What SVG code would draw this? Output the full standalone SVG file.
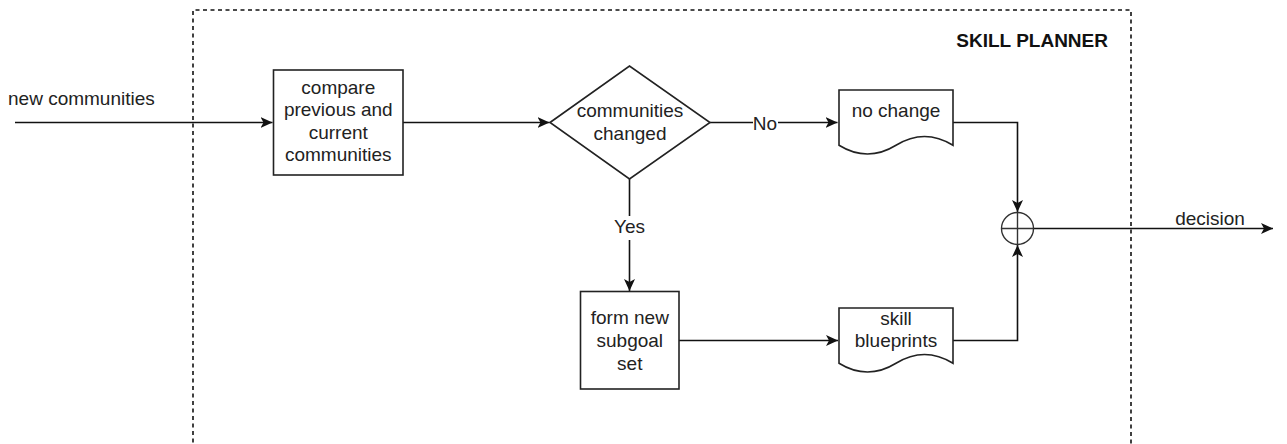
<svg xmlns="http://www.w3.org/2000/svg" width="1287" height="444" viewBox="0 0 1287 444">
  <style>
    .txt { font-family: "Liberation Sans", Arial, sans-serif; font-size: 19px; fill: #222; }
    .mid { text-anchor: middle; }
    .title { font-weight: bold; text-anchor: end; fill: #111; }
    .shape { fill: #fff; stroke: #222; stroke-width: 1.6; }
    .edge { fill: none; stroke: #111; stroke-width: 1.6; }
    .frame { fill: none; stroke: #111; stroke-width: 1.6; stroke-dasharray: 4 3.5; }
    .lbl-bg { fill: #fff; }
  </style>
  <defs>
    <marker id="arrow" markerUnits="userSpaceOnUse" markerWidth="13" markerHeight="12" refX="12" refY="5.5" orient="auto">
      <path d="M0,0 L12,5.5 L0,11 L3,5.5 Z" fill="#111"/>
    </marker>
  </defs>

  <rect width="1287" height="444" fill="#fff"/>

  <!-- planner boundary (open at the bottom) -->
  <g id="skill-planner">
    <path class="frame" d="M193,450 V10 H1131 V450"/>
    <text class="txt title" x="1108" y="47">SKILL PLANNER</text>
  </g>

  <!-- connectors -->
  <g id="connectors">
    <line class="edge" x1="15" y1="122.5" x2="272.5" y2="122.5" marker-end="url(#arrow)"/>
    <line class="edge" x1="403" y1="122.5" x2="549.5" y2="122.5" marker-end="url(#arrow)"/>
    <line class="edge" x1="710" y1="122.5" x2="837.5" y2="122.5" marker-end="url(#arrow)"/>
    <line class="edge" x1="629.5" y1="179" x2="629.5" y2="291" marker-end="url(#arrow)"/>
    <line class="edge" x1="679" y1="340.5" x2="838" y2="340.5" marker-end="url(#arrow)"/>
    <path class="edge" d="M953,122.5 H1017.5 V212" marker-end="url(#arrow)"/>
    <path class="edge" d="M953,340.5 H1017.5 V245" marker-end="url(#arrow)"/>
    <line class="edge" x1="1033.5" y1="228.5" x2="1273" y2="228.5" marker-end="url(#arrow)"/>
    <!-- edge labels -->
    <rect class="lbl-bg" x="753" y="112" width="25" height="20"/>
    <text class="txt mid" x="765" y="129.5">No</text>
    <rect class="lbl-bg" x="612" y="216" width="35" height="24"/>
    <text class="txt mid" x="629.5" y="233">Yes</text>
    <text class="txt mid" x="1210" y="225">decision</text>
    <text class="txt" x="8" y="105">new communities</text>
  </g>

  <g id="compare">
    <rect class="shape" x="273.5" y="70" width="129.5" height="105"/>
    <text class="txt mid" x="338.3" y="93.5">compare</text>
    <text class="txt mid" x="338.3" y="116">previous and</text>
    <text class="txt mid" x="338.3" y="138.5">current</text>
    <text class="txt mid" x="338.3" y="161">communities</text>
  </g>

  <g id="changed-decision">
    <polygon class="shape" points="550,122.5 629.5,66 710,122.5 629.5,179"/>
    <text class="txt mid" x="630" y="117">communities</text>
    <text class="txt mid" x="630" y="139.5">changed</text>
  </g>

  <g id="no-change">
    <path class="shape" d="M839,90 H953 V145.25 Q924.5,127.7 896,145.25 Q867.5,162.8 839,145.25 Z"/>
    <text class="txt mid" x="896" y="117">no change</text>
  </g>

  <g id="form-subgoals">
    <rect class="shape" x="580.5" y="291.5" width="98.5" height="97.5"/>
    <text class="txt mid" x="629.8" y="324">form new</text>
    <text class="txt mid" x="629.8" y="347">subgoal</text>
    <text class="txt mid" x="629.8" y="370">set</text>
  </g>

  <g id="skill-blueprints">
    <path class="shape" d="M839,308 H953 V363.25 Q924.5,345.7 896,363.25 Q867.5,380.8 839,363.25 Z"/>
    <text class="txt mid" x="896" y="325">skill</text>
    <text class="txt mid" x="896" y="347">blueprints</text>
  </g>

  <g id="merge">
    <circle cx="1017.5" cy="228.5" r="16" fill="#fff" stroke="#333" stroke-width="1.4"/>
    <path d="M1001.5,228.5 H1033.5 M1017.5,212.5 V244.5" stroke="#333" stroke-width="1.4" fill="none"/>
  </g>
</svg>
